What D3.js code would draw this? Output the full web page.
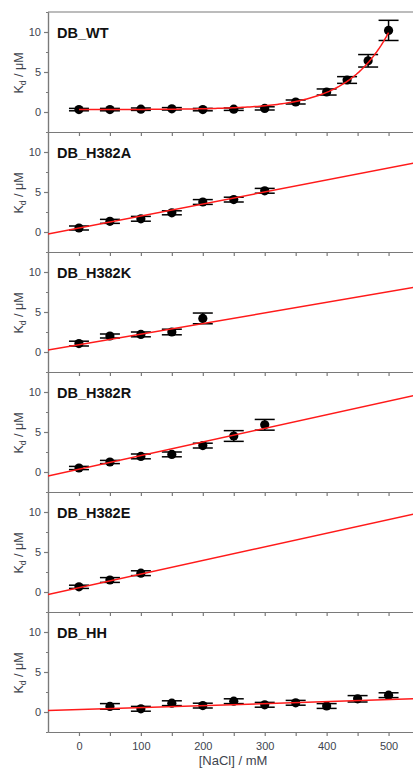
<!DOCTYPE html>
<html>
<head>
<meta charset="utf-8">
<script src="https://cdn.jsdelivr.net/npm/d3@7"></script>
<style>
  body { margin: 0; background: #fff; }
  svg { display: block; font-family: 'Liberation Sans', Arial, sans-serif; }
  .axis path, .axis line { stroke: #7a7a7a; stroke-width: 1.2; }
  .axis text { fill: #3e444e; font-size: 11px; }
</style>
</head>
<body>
<div id="chart"></div>
<script>
'use strict';

// panel names, top to bottom
var panelNames = ['DB_WT', 'DB_H382A', 'DB_H382K', 'DB_H382R', 'DB_H382E', 'DB_HH'];

// [NaCl] (mM), Kd (uM) and error for each mutant
var wtNaCl = [0, 50, 100, 150, 200, 250, 300, 350, 400, 433, 467, 500];
var wtKd   = [0.3, 0.3, 0.35, 0.4, 0.3, 0.35, 0.45, 1.25, 2.5, 4.0, 6.4, 10.2];
var wtErr  = [0.15, 0.15, 0.15, 0.15, 0.15, 0.15, 0.2, 0.25, 0.38, 0.42, 0.78, 1.26];

var h382aNaCl = [0, 50, 100, 150, 200, 250, 300];
var h382aKd   = [0.5, 1.33, 1.65, 2.4, 3.75, 4.05, 5.15];
var h382aErr  = [0.25, 0.25, 0.3, 0.25, 0.3, 0.3, 0.3];

var h382kNaCl = [0, 50, 100, 150, 200];
var h382kKd   = [1.05, 2.0, 2.2, 2.5, 4.2];
var h382kErr  = [0.3, 0.25, 0.3, 0.35, 0.67];

var h382rNaCl = [0, 50, 100, 150, 200, 250, 300];
var h382rKd   = [0.5, 1.25, 1.95, 2.2, 3.3, 4.5, 5.9];
var h382rErr  = [0.2, 0.2, 0.3, 0.3, 0.3, 0.67, 0.67];

var h382eNaCl = [0, 50, 100];
var h382eKd   = [0.65, 1.5, 2.35];
var h382eErr  = [0.2, 0.3, 0.3];

var hhNaCl = [50, 100, 150, 200, 250, 300, 350, 400, 450, 500];
var hhKd   = [0.7, 0.4, 1.1, 0.8, 1.35, 0.9, 1.15, 0.75, 1.65, 2.1];
var hhErr  = [0.35, 0.3, 0.3, 0.3, 0.3, 0.3, 0.3, 0.3, 0.4, 0.3];

// fitted lines: linear (intercept, slope) for mutants, exponential for WT
var fitIntercept = [null, 0.5, 0.91, 0.35, 0.55, 0.3];
var fitSlope     = [null, 0.015, 0.01325, 0.017, 0.017, 0.0025];
var wtFitY0 = 0.3, wtFitA = 0.0054, wtFitT = 66.8;

var xTicks = [0, 50, 100, 150, 200, 250, 300, 350, 400, 450, 500, 550];
var yTicks = [0, 5, 10];
var yMinorTicks = [-2.5, 2.5, 7.5, 12.5];

var series = [
    {x: wtNaCl, y: wtKd, e: wtErr},
    {x: h382aNaCl, y: h382aKd, e: h382aErr},
    {x: h382kNaCl, y: h382kKd, e: h382kErr},
    {x: h382rNaCl, y: h382rKd, e: h382rErr},
    {x: h382eNaCl, y: h382eKd, e: h382eErr},
    {x: hhNaCl, y: hhKd, e: hhErr}
];

var width = 413, height = 768;
var panelTop = 12, panelH = 120;
var left = 48;
var capHalf = 10;

var x = d3.scaleLinear().domain([-50, 550]).range([left, left + 600 * 0.6192]);

var svg = d3.select('#chart').append('svg')
    .attr('width', width)
    .attr('height', height);

svg.append('clipPath').attr('id', 'plotClip')
    .append('rect')
    .attr('x', left).attr('y', 0)
    .attr('width', width - left).attr('height', height);

// top border of first panel
svg.append('line')
    .attr('x1', left).attr('x2', width)
    .attr('y1', panelTop).attr('y2', panelTop)
    .attr('stroke', '#7a7a7a').attr('stroke-width', 1.2);

series.forEach(function (s, i) {
    var top = panelTop + i * panelH;
    var y = d3.scaleLinear().domain([-2.5, 12.5]).range([top + panelH, top]);
    var last = i === series.length - 1;

    var g = svg.append('g');

    // x axis at the bottom of each panel, labels only on the last one
    g.append('g')
        .attr('class', 'axis')
        .attr('transform', 'translate(0,' + (top + panelH) + ')')
        .call(d3.axisBottom(x)
            .tickValues(xTicks)
            .tickSize(4)
            .tickSizeOuter(0)
            .tickPadding(6)
            .tickFormat(function (d) {
                return (last && d % 100 === 0 && d <= 500) ? d : '';
            }));

    // minor y ticks first, then the labelled ones
    g.append('g')
        .attr('class', 'axis')
        .attr('transform', 'translate(' + left + ',0)')
        .call(d3.axisLeft(y)
            .tickValues(yMinorTicks)
            .tickSize(2)
            .tickSizeOuter(0)
            .tickFormat(''));

    g.append('g')
        .attr('class', 'axis')
        .attr('transform', 'translate(' + left + ',0)')
        .call(d3.axisLeft(y)
            .tickValues(yTicks)
            .tickSize(4)
            .tickSizeOuter(0)
            .tickPadding(3));

    // y title
    var title = g.append('text')
        .attr('transform', 'translate(23,' + (top + 61) + ') rotate(-90)')
        .attr('text-anchor', 'middle')
        .attr('fill', '#3e444e')
        .attr('font-size', '12.5px');
    title.append('tspan').text('K');
    title.append('tspan').attr('font-size', '8.5px').attr('dy', 3).text('d');
    title.append('tspan').attr('dy', -3).text(' / \u03bcM');

    // panel label
    g.append('text')
        .attr('x', 57).attr('y', top + 26)
        .attr('font-size', '14.5px')
        .attr('font-weight', 'bold')
        .attr('fill', '#111')
        .text(panelNames[i]);

    // fit line
    var fitPts;
    if (i === 0) {
        fitPts = d3.range(0, 501, 4).map(function (v) {
            return [v, wtFitY0 + wtFitA * Math.exp(v / wtFitT)];
        });
    } else {
        fitPts = [-50, 550].map(function (v) {
            return [v, fitIntercept[i] + fitSlope[i] * v];
        });
    }
    var line = d3.line()
        .x(function (d) { return x(d[0]); })
        .y(function (d) { return y(d[1]); });

    // error bars
    var pts = s.x.map(function (v, j) { return {x: v, y: s.y[j], e: s.e[j]}; });
    var eb = g.append('g').attr('stroke', '#000').attr('stroke-width', 1.5);
    eb.selectAll('line.v').data(pts).enter().append('line')
        .attr('x1', function (d) { return x(d.x); })
        .attr('x2', function (d) { return x(d.x); })
        .attr('y1', function (d) { return y(d.y - d.e); })
        .attr('y2', function (d) { return y(d.y + d.e); });
    [-1, 1].forEach(function (sign) {
        eb.selectAll('line.c' + sign).data(pts).enter().append('line')
            .attr('x1', function (d) { return x(d.x) - capHalf; })
            .attr('x2', function (d) { return x(d.x) + capHalf; })
            .attr('y1', function (d) { return y(d.y + sign * d.e); })
            .attr('y2', function (d) { return y(d.y + sign * d.e); });
    });

    g.selectAll('circle').data(pts).enter().append('circle')
        .attr('cx', function (d) { return x(d.x); })
        .attr('cy', function (d) { return y(d.y); })
        .attr('r', 4.6)
        .attr('fill', '#000');

    g.append('path')
        .attr('d', line(fitPts))
        .attr('clip-path', 'url(#plotClip)')
        .attr('fill', 'none')
        .attr('stroke', '#ff1a1a')
        .attr('stroke-width', 1.5);
});

// x title
svg.append('text')
    .attr('x', 233)
    .attr('y', 765)
    .attr('text-anchor', 'middle')
    .attr('fill', '#3e444e')
    .attr('font-size', '13px')
    .text('[NaCl] / mM');
</script>
</body>
</html>
